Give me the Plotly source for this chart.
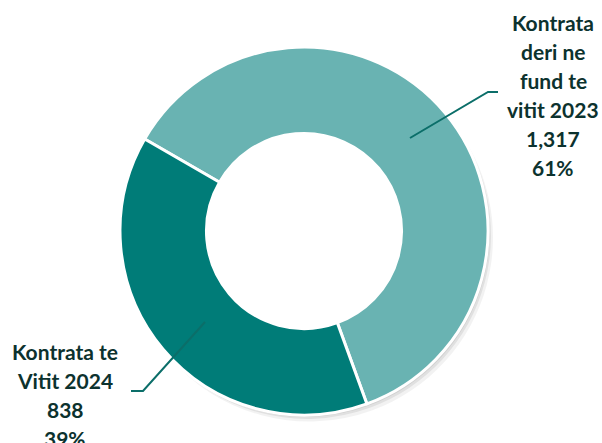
import plotly.graph_objects as go

# ---- data ----
labels = ["Kontrata deri ne fund te vitit 2023", "Kontrata te Vitit 2024"]
values = [1317, 838]
colors = ["#69B3B2", "#007C78"]
label_lines = [["Kontrata", "deri ne", "fund te", "vitit 2023"], ["Kontrata te", "Vitit 2024"]]

W, H = 602, 443
cx, cy, R = 304, 231, 184  # pixel geometry of the donut

def dom(dx=0, dy=0):
    return dict(x=[(cx - R + dx) / W, (cx + R + dx) / W],
                y=[(H - cy - R - dy) / H, (H - cy + R - dy) / H])

fig = go.Figure()

# soft shadow (layered)
for off, a in [(5, 0.05), (3, 0.07), (1.5, 0.07)]:
    fig.add_trace(go.Pie(values=values, labels=labels, sort=False, direction="clockwise",
                         rotation=-60, hole=0.75, domain=dom(off, off * 1.3),
                         marker=dict(colors=[f"rgba(0,0,0,{a})"] * 2, line=dict(width=0)),
                         textinfo="none", hoverinfo="skip", showlegend=False))

fig.add_trace(go.Pie(values=values, labels=labels, sort=False, direction="clockwise",
                     rotation=-60, hole=0.53, domain=dom(),
                     marker=dict(colors=colors, line=dict(color="white", width=3)),
                     textinfo="none", showlegend=False))

total = sum(values)
txt_color = "#0C322E"
font = dict(family="Lato", size=21, color=txt_color)

annotations = []
label_pos = [(553, 22.5), (65, 351)]
pitch = 29
for lines, v, (lx, ly) in zip(label_lines, values, label_pos):
    full = lines + [f"{v:,}", f"{round(100 * v / total)}%"]
    for i, t in enumerate(full):
        annotations.append(dict(x=lx / W, y=1 - (ly + i * pitch) / H, xref="paper", yref="paper",
                                text=f"<b>{t}</b>", showarrow=False, font=font,
                                xanchor="center", yanchor="middle"))

line_col = "#0B6E69"
shapes = [
    dict(type="path", xref="paper", yref="paper",
         path=f"M {410/W} {1-138/H} L {488/W} {1-92/H} L {498/W} {1-92/H}",
         line=dict(color=line_col, width=2)),
    dict(type="path", xref="paper", yref="paper",
         path=f"M {205/W} {1-322/H} L {143/W} {1-391/H} L {131/W} {1-391/H}",
         line=dict(color=line_col, width=2)),
]

fig.update_layout(width=W, height=H, autosize=False,
                  margin=dict(l=0, r=0, t=0, b=0),
                  paper_bgcolor="white", plot_bgcolor="white",
                  annotations=annotations, shapes=shapes)

fig.write_html("out.html", post_script="document.body.style.margin='0';",
               config={"displayModeBar": False})
